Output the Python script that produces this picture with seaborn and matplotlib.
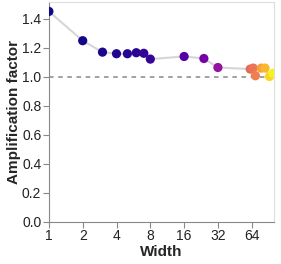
import matplotlib
matplotlib.use("Agg")
import matplotlib.pyplot as plt
import matplotlib.ticker as mticker
import seaborn as sns
import pandas as pd
import numpy as np

widths = [1, 2, 3, 4, 5, 6, 7, 8, 16, 24, 32, 62, 66, 69, 78, 84, 92, 99]
amplification = [1.452, 1.25, 1.171, 1.160, 1.160, 1.167, 1.163, 1.123, 1.141,
                 1.127, 1.065, 1.054, 1.061, 1.008, 1.061, 1.061, 1.003, 1.026]
xticks = [1, 2, 4, 8, 16, 32, 64]
yticks = [0.0, 0.2, 0.4, 0.6, 0.8, 1.0, 1.2, 1.4]

df = pd.DataFrame({"Width": widths, "Amplification factor": amplification})

sns.set_style("white")
plt.rcParams['font.family'] = ['Liberation Sans', 'DejaVu Sans']

fig = plt.figure(figsize=(2.81, 2.64), dpi=100)
ax = fig.add_axes([0.174, 0.160, 0.801, 0.834])

sns.lineplot(data=df, x="Width", y="Amplification factor", color="#d6d6d6",
             linewidth=1.5, ax=ax, zorder=1)
sns.scatterplot(data=df, x="Width", y="Amplification factor", hue="Width",
                palette="plasma", hue_norm=(1, 100), s=44, linewidth=0,
                legend=False, ax=ax, zorder=3)
ax.axhline(1.0, color="#888888", linestyle=(0, (3, 3)), linewidth=1.1, zorder=2)

ax.set_xscale("log", base=2)
ax.set_xlim(1, 101)
ax.set_ylim(0, 1.52)
ax.set_xticks(xticks)
ax.xaxis.set_major_formatter(mticker.FuncFormatter(lambda v, p: f"{int(v)}"))
ax.xaxis.set_minor_locator(mticker.NullLocator())
ax.set_yticks(yticks)
ax.yaxis.set_major_formatter(mticker.FormatStrFormatter("%.1f"))

ax.tick_params(axis="both", which="major", length=4, width=0.8, color="#888888",
               labelsize=10, labelcolor="#222222", pad=1.5, direction="out")
ax.tick_params(bottom=True, left=True)

for side in ["left", "bottom"]:
    ax.spines[side].set_color("#888888")
    ax.spines[side].set_linewidth(0.8)
for side in ["top", "right"]:
    ax.spines[side].set_color("#dddddd")
    ax.spines[side].set_linewidth(0.8)

ax.set_xlabel("Width", fontsize=11, fontweight="bold", labelpad=1.5)
ax.set_ylabel("Amplification factor", fontsize=11, fontweight="bold", labelpad=0.5)

fig.savefig("out.png", dpi=100)
